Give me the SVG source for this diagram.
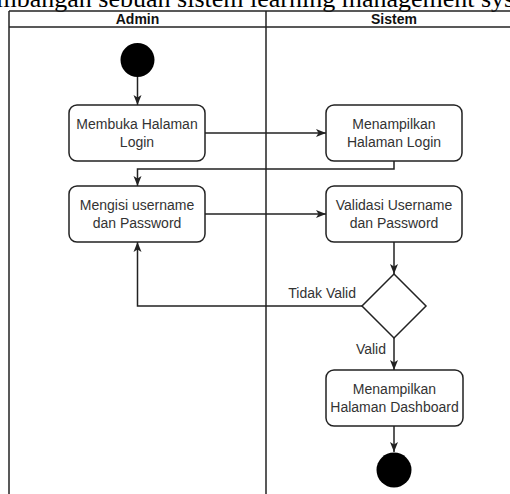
<svg xmlns="http://www.w3.org/2000/svg" width="510" height="494" viewBox="0 0 510 494">
  <style>
    .lane { fill: none; stroke: #222; stroke-width: 1.5; }
    .head { font-family: "Liberation Sans", Arial, sans-serif; font-size: 14px; font-weight: bold; fill: #111; text-anchor: middle; }
    .act { fill: #fff; stroke: #222; stroke-width: 1.5; }
    .lbl { font-family: "Liberation Sans", Arial, sans-serif; font-size: 14px; fill: #333; text-anchor: middle; }
    .edge { fill: none; stroke: #222; stroke-width: 1.5; }
    .elbl { font-family: "Liberation Sans", Arial, sans-serif; font-size: 14px; fill: #333; text-anchor: end; }
    .dot { fill: #000; }
    .title { font-family: "Liberation Serif", "Times New Roman", serif; font-size: 26px; fill: #000; }
  </style>
  <defs>
    <marker id="arrow" markerUnits="userSpaceOnUse" markerWidth="10" markerHeight="10" viewBox="0 0 10 10" refX="10" refY="5" orient="auto">
      <path d="M0,1 L10,5 L0,9 L2.5,5 Z" fill="#222"/>
    </marker>
  </defs>

  <rect width="510" height="494" fill="#fff"/>

  <!-- caption line above the swimlanes -->
  <text class="title" x="-67" y="7">Pengembangan sebuah sistem learning management system</text>

  <!-- swimlane frame -->
  <g id="lanes">
    <line class="lane" x1="9" y1="11" x2="510" y2="11"/>
    <line class="lane" x1="9" y1="27" x2="510" y2="27"/>
    <line class="lane" x1="9" y1="11" x2="9" y2="494"/>
    <line class="lane" x1="266" y1="11" x2="266" y2="494"/>
    <text class="head" x="137.5" y="24">Admin</text>
    <text class="head" x="394" y="24">Sistem</text>
  </g>

  <!-- connectors -->
  <g id="connectors">
    <path class="edge" d="M137.5,77 L137.5,105" marker-end="url(#arrow)"/>
    <path class="edge" d="M205,133 L326,133" marker-end="url(#arrow)"/>
    <path class="edge" d="M394,161 L394,169 L137.5,169 L137.5,186" marker-end="url(#arrow)"/>
    <path class="edge" d="M205,214 L326,214" marker-end="url(#arrow)"/>
    <path class="edge" d="M394,242 L394,274" marker-end="url(#arrow)"/>
    <path class="edge" d="M362,306 L137.5,306 L137.5,242" marker-end="url(#arrow)"/>
    <text class="elbl" x="356" y="298">Tidak Valid</text>
    <path class="edge" d="M394,338 L394,370" marker-end="url(#arrow)"/>
    <text class="elbl" x="386" y="354">Valid</text>
    <path class="edge" d="M394,426 L394,452" marker-end="url(#arrow)"/>
  </g>

  <g id="start">
    <circle class="dot" cx="137.5" cy="60" r="17"/>
  </g>

  <g id="membuka-halaman-login">
    <rect class="act" x="69" y="105" width="136" height="56" rx="8"/>
    <text class="lbl" x="137" y="129">Membuka Halaman</text>
    <text class="lbl" x="137" y="147">Login</text>
  </g>

  <g id="menampilkan-halaman-login">
    <rect class="act" x="326" y="105" width="136" height="56" rx="8"/>
    <text class="lbl" x="394" y="129">Menampilkan</text>
    <text class="lbl" x="394" y="147">Halaman Login</text>
  </g>

  <g id="mengisi-username">
    <rect class="act" x="69" y="186" width="136" height="56" rx="8"/>
    <text class="lbl" x="137" y="210">Mengisi username</text>
    <text class="lbl" x="137" y="228">dan Password</text>
  </g>

  <g id="validasi">
    <rect class="act" x="326" y="186" width="136" height="56" rx="8"/>
    <text class="lbl" x="394" y="210">Validasi Username</text>
    <text class="lbl" x="394" y="228">dan Password</text>
  </g>

  <g id="decision">
    <polygon class="act" points="394,274 426,306 394,338 362,306"/>
  </g>

  <g id="menampilkan-dashboard">
    <rect class="act" x="326" y="370" width="137" height="56" rx="8"/>
    <text class="lbl" x="394.5" y="394">Menampilkan</text>
    <text class="lbl" x="394.5" y="412">Halaman Dashboard</text>
  </g>

  <g id="end">
    <circle class="dot" cx="394" cy="470" r="17.5"/>
  </g>
</svg>
